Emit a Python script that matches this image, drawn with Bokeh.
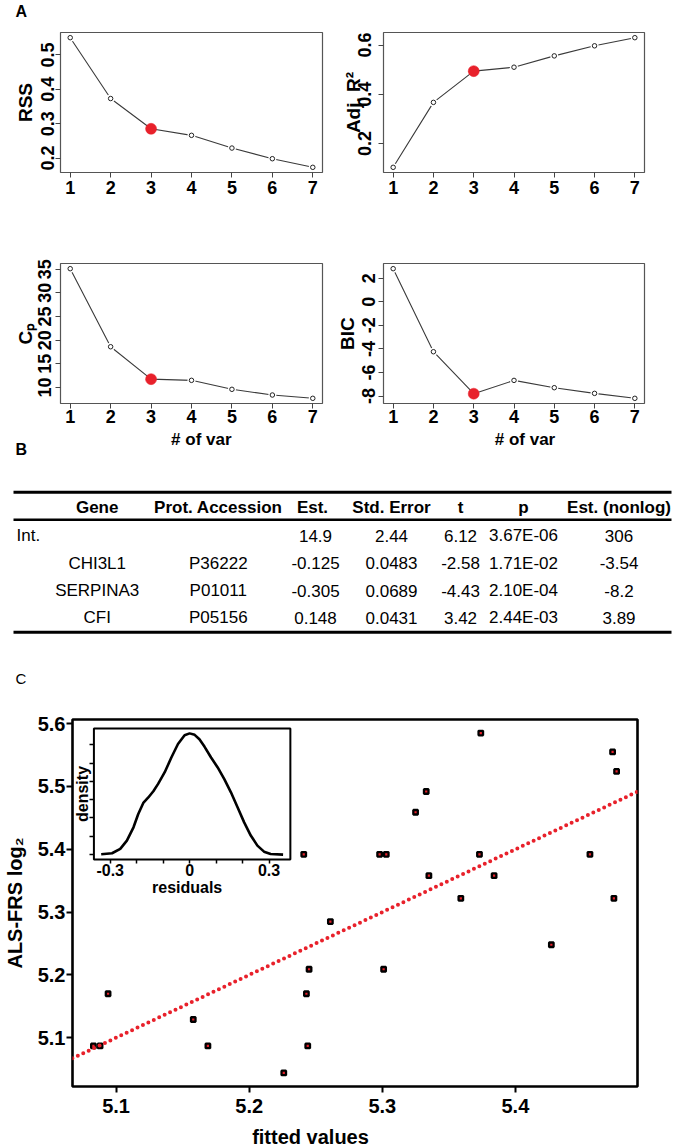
import math
from bokeh.plotting import figure
from bokeh.layouts import column, row
from bokeh.models import Range1d, FixedTicker, LinearAxis, Label, Slope
from bokeh.embed import file_html
from bokeh.resources import INLINE
from bokeh.core.properties import value

FONT = "Liberation Sans"
RED = "#e8212b"

# ---------------- data: panel A (best subset selection) ----------------
n_var = [1, 2, 3, 4, 5, 6, 7]
rss = [0.550, 0.373, 0.285, 0.266, 0.229, 0.198, 0.173]
adj_r2 = [0.103, 0.367, 0.494, 0.510, 0.556, 0.597, 0.630]
cp = [35.1, 18.6, 11.75, 11.5, 9.6, 8.4, 7.7]
bic = [2.8, -4.24, -7.8, -6.67, -7.29, -7.77, -8.19]
best_size = 3
rss_ticks = [0.2, 0.3, 0.4, 0.5]
rss_tick_labels = ["0.2", "0.3", "0.4", "0.5"]
adj_r2_ticks = [0.2, 0.4, 0.6]
adj_r2_tick_labels = ["0.2", "0.4", "0.6"]
cp_ticks = [10, 15, 20, 25, 30, 35]
cp_tick_labels = ["10", "15", "20", "25", "30", "35"]
bic_ticks = [-8, -6, -4, -2, 0, 2]
bic_tick_labels = ["-8", "-6", "-4", "-2", "0", "2"]

# ---------------- data: panel B (table) ----------------
header = ["Gene", "Prot. Accession", "Est.", "Std. Error", "t", "p", "Est. (nonlog)"]
gene = ["Int.", "CHI3L1", "SERPINA3", "CFI"]
accession = ["", "P36222", "P01011", "P05156"]
estimate = ["14.9", "-0.125", "-0.305", "0.148"]
std_error = ["2.44", "0.0483", "0.0689", "0.0431"]
t_value = ["6.12", "-2.58", "-4.43", "3.42"]
p_value = ["3.67E-06", "1.71E-02", "2.10E-04", "2.44E-03"]
est_nonlog = ["306", "-3.54", "-8.2", "3.89"]

# ---------------- data: panel C ----------------
fitted = [5.374, 5.473, 5.476, 5.333, 5.325, 5.241, 5.298, 5.303, 5.373, 5.456,
          5.335, 5.384, 5.359, 5.474, 5.261, 5.427, 5.245, 5.301, 5.094, 5.243,
          5.158, 5.083, 5.088, 5.169, 5.244, 5.226]
observed = [5.585, 5.555, 5.524, 5.492, 5.459, 5.392, 5.392, 5.392, 5.392, 5.392,
            5.358, 5.358, 5.322, 5.322, 5.285, 5.248, 5.209, 5.209, 5.170, 5.170,
            5.129, 5.087, 5.087, 5.087, 5.087, 5.044]
fit_x_ticks = [5.1, 5.2, 5.3, 5.4]
fit_y_ticks = [5.1, 5.2, 5.3, 5.4, 5.5, 5.6]
resid_grid = [-0.334, -0.293, -0.262, -0.237, -0.212, -0.194, -0.175, -0.156, -0.137,
              -0.119, -0.094, -0.069, -0.044, -0.019, 0.0, 0.019, 0.037, 0.056, 0.081,
              0.106, 0.131, 0.156, 0.181, 0.206, 0.231, 0.256, 0.281, 0.306, 0.353]
resid_density = [0.009, 0.036, 0.155, 0.38, 0.745, 1.11, 1.41, 1.56, 1.73, 1.93, 2.25,
                 2.65, 3.02, 3.26, 3.31, 3.27, 3.15, 2.95, 2.65, 2.38, 2.06, 1.70, 1.29,
                 0.88, 0.52, 0.245, 0.08, 0.018, 0.0]
resid_ticks = [-0.3, 0, 0.3]
resid_tick_labels = ["-0.3", "0", "0.3"]
resid_minor_ticks = [-0.2, -0.1, 0.1, 0.2]
density_ticks = [0, 0.5, 1.0, 1.5, 2.0, 2.5, 3.0]

PAGE_W = 675


def r_range(vals):
    lo, hi = min(vals), max(vals)
    pad = 0.04 * (hi - lo)
    return lo - pad, hi + pad


def style_axis(ax, size, tick_out=5, tick_color="#444", tick_width=1.0):
    ax.axis_line_color = None
    ax.major_tick_in = 0
    ax.major_tick_out = tick_out
    ax.major_tick_line_color = tick_color
    ax.major_tick_line_width = tick_width
    ax.minor_tick_line_color = None
    ax.major_label_text_font = FONT
    ax.major_label_text_font_size = size
    ax.major_label_text_font_style = "bold"
    ax.major_label_text_color = "black"
    ax.axis_label_text_font = FONT
    ax.axis_label_text_font_style = "bold"
    ax.axis_label_text_color = "black"


def strip(width, height):
    f = figure(width=width, height=height, x_range=Range1d(0, width),
               y_range=Range1d(height, 0), min_border=0, x_axis_location=None,
               y_axis_location=None, output_backend="svg", toolbar_location=None)
    f.grid.visible = False
    f.outline_line_color = None
    return f


def put_text(f, xs, ys, texts, size, bold=False, align="center"):
    f.text(x=xs, y=ys, text=texts, text_font=value(FONT), text_font_size=size,
           text_font_style="bold" if bold else "normal", text_align=align,
           text_baseline="middle", text_color="black")


def subset_panel(vals, ticks, tick_labels, ylabel, width, height, borders, x_standoff,
                 tick_standoff, label_standoff):
    bl, br, bt, bb = borders
    x0, x1 = r_range(n_var)
    y0, y1 = r_range(vals)
    p = figure(width=width, height=height, x_range=Range1d(x0, x1), y_range=Range1d(y0, y1),
               min_border_left=bl, min_border_right=br, min_border_top=bt,
               min_border_bottom=bb, output_backend="svg", toolbar_location=None)
    p.grid.visible = False
    p.outline_line_color = "#555555"
    p.outline_line_width = 1.2
    p.line(n_var, vals, line_color="#3a3a3a", line_width=1.1)
    p.scatter(n_var, vals, size=8, fill_color="white", line_color=None)
    p.scatter(n_var, vals, size=4.5, fill_color="white", line_color="#222222", line_width=1)
    k = n_var.index(best_size)
    p.scatter([n_var[k]], [vals[k]], size=11, fill_color=RED, line_color=RED, line_width=0.5)

    xa = p.xaxis[0]
    style_axis(xa, "18px")
    xa.ticker = FixedTicker(ticks=n_var)
    xa.major_label_standoff = x_standoff

    ya = p.yaxis[0]
    style_axis(ya, "18px")
    ya.ticker = FixedTicker(ticks=ticks)
    ya.major_label_overrides = dict(zip(ticks, tick_labels))
    ya.major_label_orientation = "vertical"
    ya.major_label_standoff = tick_standoff
    ya.axis_label = ylabel
    ya.axis_label_text_font_size = "19px"
    ya.axis_label_standoff = label_standoff
    return p


# ---- strip with panel tag A
strip_a = strip(PAGE_W, 20)
put_text(strip_a, [15], [10.5], ["A"], "16px", bold=True, align="left")

# ---- panel A plots
p_rss = subset_panel(rss, rss_ticks, rss_tick_labels, "RSS", 330, 210,
                     (60, 8, 12, 58), 3, 1, 3)
p_adj = subset_panel(adj_r2, adj_r2_ticks, adj_r2_tick_labels, "Adj. R\u00b2", 345, 210,
                     (53, 31, 12, 58), 3, 7, -8)
p_cp = subset_panel(cp, cp_ticks, cp_tick_labels, "C\u209a", 330, 199,
                    (60, 8, 33, 26), 1, 4, 0)
p_bic = subset_panel(bic, bic_ticks, bic_tick_labels, "BIC", 345, 199,
                     (53, 31, 33, 26), 1, 3, 2)

# ---- middle strip: x-axis titles of A, panel B table, tag C
MH = 261
mid = strip(PAGE_W, MH)
put_text(mid, [200.8, 524.5], [10, 10], ["# of var", "# of var"], "17px", bold=True)
put_text(mid, [15], [20], ["B"], "16px", bold=True, align="left")
put_text(mid, [15], [249], ["C"], "15px", align="left")

col_x = [96.7, 217.8, 315, 391, 460, 523, 618.5]
header_x = [96.7, 217.8, 312, 391, 460, 523, 618.5]
header_y = 77.7
row_y = [106, 133.7, 161, 188.3]
rule_y = [62.7, 90.3, 202.7]
rule_w = [3, 2.4, 3]
mid.segment(x0=[13] * 3, x1=[671] * 3, y0=rule_y, y1=rule_y, line_width=rule_w,
            line_color="black")
put_text(mid, header_x, [header_y] * len(header), header, "17px", bold=True)
put_text(mid, [16], [row_y[0]], [gene[0]], "17px", align="left")
body_cols = [gene, accession, estimate, std_error, t_value, p_value, est_nonlog]
bx, by, btx = [], [], []
for ci, col in enumerate(body_cols):
    for ri, cell in enumerate(col):
        if (ci == 0 and ri == 0) or cell == "":
            continue
        bx.append(col_x[ci])
        by.append(row_y[ri])
        btx.append(cell)
put_text(mid, bx, by, btx, "17px")

# ---- panel C scatter with inset
sx0, sx1 = r_range(fitted)
sy0, sy1 = r_range(observed)
sp = figure(width=PAGE_W, height=432, x_range=Range1d(sx0, sx1), y_range=Range1d(sy0, sy1),
            min_border_left=67, min_border_right=38, min_border_top=29, min_border_bottom=36,
            output_backend="svg", toolbar_location=None)
sp.grid.visible = False
sp.outline_line_color = "black"
sp.outline_line_width = 2.6

sp.add_layout(Slope(gradient=1, y_intercept=0, line_color=RED, line_width=4,
                    line_dash="0 6", line_cap="round"))
sp.scatter(fitted, observed, marker="square", size=4.5, fill_color=RED,
           line_color="black", line_width=2.3)

for ax in (sp.xaxis[0], sp.yaxis[0]):
    style_axis(ax, "20px", tick_out=6, tick_color="black", tick_width=2)
sp.xaxis[0].ticker = FixedTicker(ticks=fit_x_ticks)
sp.yaxis[0].ticker = FixedTicker(ticks=fit_y_ticks)
sp.xaxis[0].major_label_standoff = 6
sp.yaxis[0].major_label_standoff = 1
sp.yaxis[0].axis_label = "ALS-FRS log\u2082"
sp.yaxis[0].axis_label_text_font_size = "20px"
sp.yaxis[0].axis_label_standoff = 9

# inset placement inside the main frame (fractions of frame)
fl, fr, fb, ft = 0.0379, 0.3856, 0.6187, 0.9754
rx0, rx1 = r_range(resid_grid)
dy0, dy1 = r_range(resid_density)
rspan = (rx1 - rx0) / (fr - fl)
dspan = (dy1 - dy0) / (ft - fb)
sp.extra_x_ranges = {"ix": Range1d(rx0 - fl * rspan, rx0 - fl * rspan + rspan)}
sp.extra_y_ranges = {"iy": Range1d(dy0 - fb * dspan, dy0 - fb * dspan + dspan)}

sp.quad(left=[rx0], right=[rx1], bottom=[dy0], top=[dy1], x_range_name="ix",
        y_range_name="iy", fill_color="white", line_color="black", line_width=2)
sp.line(resid_grid, resid_density, x_range_name="ix", y_range_name="iy",
        line_color="black", line_width=2.6)

ax_r = LinearAxis(x_range_name="ix", y_range_name="iy", fixed_location=dy0,
                  ticker=FixedTicker(ticks=resid_ticks, minor_ticks=resid_minor_ticks))
style_axis(ax_r, "16px", tick_out=4, tick_color="black", tick_width=1.5)
ax_r.minor_tick_line_color = "black"
ax_r.minor_tick_line_width = 1.5
ax_r.minor_tick_in = 0
ax_r.minor_tick_out = 4
ax_r.major_label_standoff = 1
ax_r.major_label_overrides = dict(zip(resid_ticks, resid_tick_labels))
sp.add_layout(ax_r, "below")

ax_d = LinearAxis(x_range_name="ix", y_range_name="iy", fixed_location=rx0,
                  ticker=FixedTicker(ticks=density_ticks))
style_axis(ax_d, "16px", tick_out=4, tick_color="black", tick_width=1.5)
ax_d.major_label_overrides = {t: "" for t in density_ticks}
sp.add_layout(ax_d, "left")

sp.add_layout(Label(x=(rx0 + rx1) / 2, y=dy0, x_range_name="ix", y_range_name="iy",
                    x_offset=-5, y_offset=-27.7, text="residuals", text_font=FONT,
                    text_font_size="16px", text_font_style="bold", text_align="center",
                    text_baseline="middle", text_color="black"))
sp.add_layout(Label(x=rx0, y=(dy0 + dy1) / 2, x_range_name="ix", y_range_name="iy",
                    x_offset=-11.3, angle=math.pi / 2, text="density", text_font=FONT,
                    text_font_size="16px", text_font_style="bold", text_align="center",
                    text_baseline="middle", text_color="black"))

# ---- bottom strip: x-axis title of C
strip_c = strip(PAGE_W, 24)
put_text(strip_c, [310], [14], ["fitted values"], "20px", bold=True)

layout = column(row(strip_a), row(p_rss, p_adj), row(p_cp, p_bic), row(mid), row(sp),
                row(strip_c))
open("out.html", "w").write(file_html(layout, INLINE))
